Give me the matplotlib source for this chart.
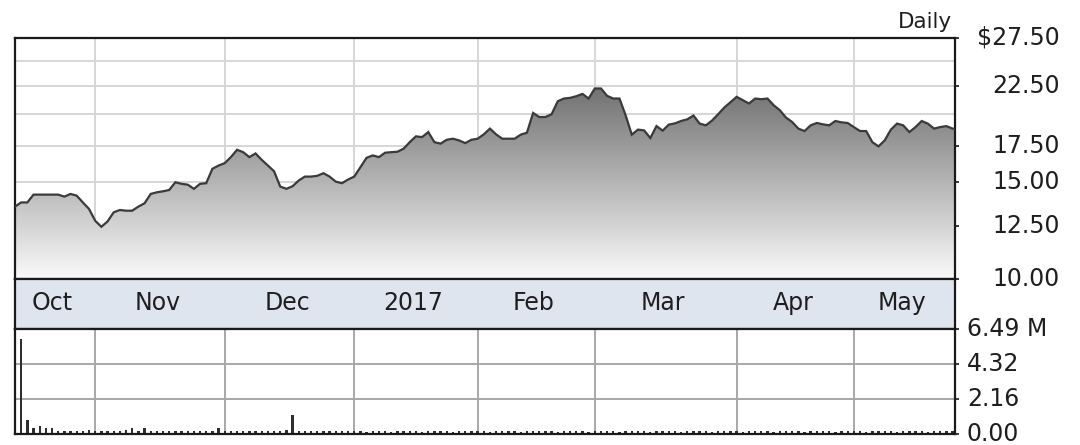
import numpy as np
import pandas as pd
import matplotlib
matplotlib.use("Agg")
import matplotlib.pyplot as plt
from matplotlib.patches import PathPatch
from matplotlib.path import Path
from matplotlib.ticker import NullLocator, NullFormatter

# ---- data ---------------------------------------------------------------
holidays = ["2016-11-24", "2016-12-26", "2017-01-02", "2017-01-16",
            "2017-02-20", "2017-04-14"]
dates = pd.bdate_range("2016-10-13", "2017-05-23", freq="C", holidays=holidays)

close = [
    13.55, 13.79, 13.79, 14.25, 14.25, 14.25, 14.25, 14.25, 14.13, 14.29,
    14.19, 13.79, 13.42, 12.77, 12.45, 12.73, 13.23, 13.36, 13.32, 13.32,
    13.55, 13.74, 14.29, 14.39, 14.45, 14.53, 15.01, 14.91, 14.86, 14.60,
    14.91, 14.95, 15.88, 16.10, 16.26, 16.68, 17.20, 17.03, 16.68, 16.94,
    16.49, 16.10, 15.72, 14.74, 14.60, 14.76, 15.12, 15.37, 15.37, 15.42,
    15.59, 15.37, 15.05, 14.95, 15.18, 15.37, 15.99, 16.63, 16.80, 16.68,
    16.99, 17.03, 17.06, 17.28, 17.76, 18.20, 18.14, 18.53, 17.76, 17.65,
    17.94, 18.02, 17.89, 17.69, 17.94, 18.02, 18.35, 18.80, 18.35, 18.02,
    18.02, 18.02, 18.33, 18.48, 20.08, 19.74, 19.74, 19.97, 21.09, 21.33,
    21.39, 21.54, 21.75, 21.33, 22.25, 22.25, 21.57, 21.33, 21.33, 19.88,
    18.33, 18.72, 18.66, 18.07, 19.00, 18.64, 19.12, 19.22, 19.41, 19.55,
    19.86, 19.20, 19.06, 19.44, 19.97, 20.54, 21.00, 21.48, 21.18, 20.89,
    21.33, 21.27, 21.33, 20.74, 20.31, 19.69, 19.33, 18.80, 18.61, 19.06,
    19.25, 19.14, 19.06, 19.41, 19.30, 19.25, 18.92, 18.61, 18.61, 17.76,
    17.45, 17.89, 18.72, 19.20, 19.06, 18.53, 18.92, 19.41, 19.20, 18.80,
    18.92, 19.00, 18.80,
]

volume_m = [
    0.25, 5.90, 0.86, 0.37, 0.51, 0.37, 0.37, 0.18, 0.18, 0.20,
    0.18, 0.18, 0.25, 0.18, 0.20, 0.18, 0.18, 0.18, 0.25, 0.37,
    0.18, 0.37, 0.20, 0.18, 0.18, 0.18, 0.18, 0.20, 0.18, 0.18,
    0.18, 0.18, 0.18, 0.37, 0.18, 0.18, 0.18, 0.18, 0.18, 0.18,
    0.18, 0.18, 0.18, 0.20, 0.25, 1.18, 0.20, 0.18, 0.18, 0.18,
    0.18, 0.18, 0.18, 0.18, 0.18, 0.18, 0.18, 0.15, 0.18, 0.18,
    0.18, 0.15, 0.18, 0.18, 0.18, 0.18, 0.15, 0.18, 0.18, 0.18,
    0.18, 0.15, 0.18, 0.18, 0.18, 0.18, 0.18, 0.15, 0.18, 0.18,
    0.18, 0.18, 0.15, 0.18, 0.18, 0.18, 0.18, 0.18, 0.15, 0.18,
    0.18, 0.18, 0.18, 0.15, 0.18, 0.18, 0.18, 0.18, 0.15, 0.18,
    0.18, 0.18, 0.18, 0.15, 0.18, 0.18, 0.18, 0.18, 0.15, 0.18,
    0.18, 0.18, 0.18, 0.15, 0.18, 0.18, 0.18, 0.18, 0.15, 0.18,
    0.18, 0.18, 0.18, 0.15, 0.18, 0.18, 0.18, 0.18, 0.15, 0.18,
    0.18, 0.18, 0.18, 0.15, 0.18, 0.18, 0.18, 0.18, 0.15, 0.18,
    0.18, 0.18, 0.18, 0.15, 0.18, 0.18, 0.18, 0.18, 0.15, 0.18,
    0.18, 0.18, 0.18,
]

month_labels = ["Oct", "Nov", "Dec", "2017", "Feb", "Mar", "Apr", "May"]
price_ticks = [10.0, 12.5, 15.0, 17.5, 22.5, 27.5]
price_tick_labels = ["10.00", "12.50", "15.00", "17.50", "22.50", "$27.50"]
price_grid = [12.5, 15.0, 17.5, 20.0, 22.5, 25.0]
volume_ticks = [0.0, 2.16, 4.32, 6.49]
volume_tick_labels = ["0.00", "2.16", "4.32", "6.49 M"]

# ---- layout -------------------------------------------------------------
W, H = 1080, 445
fig = plt.figure(figsize=(W / 100, H / 100), dpi=100)
fig.patch.set_facecolor("white")


def rect(left, top, right, bottom):
    return [left / W, 1 - bottom / H, (right - left) / W, (bottom - top) / H]


ax_p = fig.add_axes(rect(15, 38, 955, 279))
ax_d = fig.add_axes(rect(15, 279, 955, 329))
ax_v = fig.add_axes(rect(15, 329, 955, 434))

x = np.arange(len(close))
xmax = len(close) - 0.6
month_starts = [i for i in range(1, len(dates)) if dates[i].month != dates[i - 1].month]
bounds = [0] + month_starts + [xmax]

TEXT = "#1e1e1e"
BORDER = "#1a1a1a"
FS = 17

# ---- price panel --------------------------------------------------------
ax_p.set_yscale("log")
ax_p.set_xlim(0, xmax)
ax_p.set_ylim(10, 27.5)
ax_p.set_autoscale_on(False)
ax_p.yaxis.set_minor_locator(NullLocator())
ax_p.yaxis.set_minor_formatter(NullFormatter())
ax_p.set_xticks([])
ax_p.yaxis.tick_right()
ax_p.set_yticks(price_ticks)
ax_p.set_yticklabels([])
ax_p.tick_params(axis="y", direction="out", length=3, width=1.2, color=BORDER)

for g in price_grid:
    ax_p.axhline(g, color="#d6d6d6", lw=1.4, zorder=0.5)
for m in month_starts:
    ax_p.axvline(m, color="#d6d6d6", lw=1.4, zorder=0.5)

# vertical gray gradient clipped to the area under the price line
shade = np.linspace(78, 250, 256) / 255.0
grad = np.dstack([shade, shade, shade]).reshape(256, 1, 3)
im = ax_p.imshow(grad, extent=(0, 1, 0, 1), transform=ax_p.transAxes,
                 aspect="auto", origin="upper", interpolation="bilinear", zorder=1)
verts = [(0, 10)] + list(zip(x, close)) + [(xmax, close[-1]), (xmax, 10), (0, 10)]
area = PathPatch(Path(verts), transform=ax_p.transData, facecolor="none", edgecolor="none")
im.set_clip_path(area)
ax_p.set_xlim(0, xmax)
ax_p.set_ylim(10, 27.5)

ax_p.plot(list(x) + [xmax], close + [close[-1]], color="#3a3a3a", lw=1.6, zorder=3,
          solid_joinstyle="miter")

for v, s in zip(price_ticks, price_tick_labels):
    ax_p.text((1060 - 15) / 940, v, s, transform=ax_p.get_yaxis_transform(),
              ha="right", va="center", fontsize=FS, color=TEXT, clip_on=False)

for sp in ax_p.spines.values():
    sp.set_color(BORDER)
    sp.set_linewidth(1.6)

# ---- date band ----------------------------------------------------------
ax_d.set_facecolor("#dfe5ef")
ax_d.set_xlim(0, xmax)
ax_d.set_ylim(0, 1)
ax_d.set_xticks([])
ax_d.set_yticks([])
for lab, a, b in zip(month_labels, bounds[:-1], bounds[1:]):
    ax_d.text((a + b) / 2 - 0.4, 0.52, lab, ha="center", va="center",
              fontsize=FS, color=TEXT)
for sp in ax_d.spines.values():
    sp.set_color(BORDER)
    sp.set_linewidth(1.6)

# ---- volume panel -------------------------------------------------------
ax_v.set_xlim(0, xmax)
ax_v.set_ylim(0, 6.49)
ax_v.set_xticks([])
ax_v.yaxis.tick_right()
ax_v.set_yticks(volume_ticks)
ax_v.set_yticklabels([])
ax_v.tick_params(axis="y", direction="out", length=3, width=1.2, color=BORDER)
for g in volume_ticks[1:-1]:
    ax_v.axhline(g, color="#a8a8a8", lw=1.4, zorder=0.5)
for m in month_starts:
    ax_v.axvline(m, color="#a8a8a8", lw=1.4, zorder=0.5)
ax_v.bar(x, volume_m, width=0.38, color="#2e2e2e", zorder=2)
for v, s in zip(volume_ticks, volume_tick_labels):
    ax_v.text((967 - 15) / 940, v, s, transform=ax_v.get_yaxis_transform(),
              ha="left", va="center", fontsize=FS, color=TEXT, clip_on=False)
for sp in ax_v.spines.values():
    sp.set_color(BORDER)
    sp.set_linewidth(1.6)

fig.text(952 / W, 1 - 28 / H, "Daily", ha="right", va="baseline",
         fontsize=15.5, color=TEXT)

fig.savefig("out.png", dpi=100, facecolor="white")
